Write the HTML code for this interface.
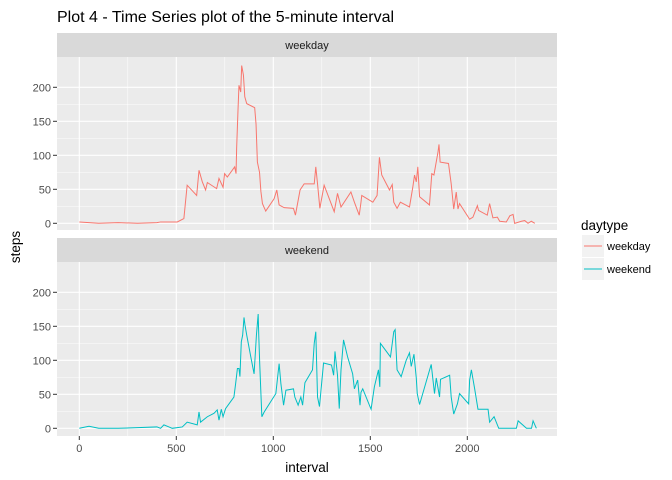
<!DOCTYPE html>
<html><head><meta charset="utf-8">
<style>
html,body{margin:0;padding:0;background:#fff;}
svg{display:block;font-family:"Liberation Sans",sans-serif;}
</style></head>
<body>
<svg id="chart" width="672" height="480" viewBox="0 0 672 480">
<rect width="672" height="480" fill="#fff"/>
<text x="57" y="22" font-size="16" fill="#000">Plot 4 - Time Series plot of the 5-minute interval</text>
<g id="panels"></g>
<text x="307" y="472" font-size="13.5" text-anchor="middle" fill="#000">interval</text>
<text transform="translate(20,247) rotate(-90)" font-size="13.5" text-anchor="middle" fill="#000">steps</text>
<g>
<text x="581" y="230" font-size="13.5" fill="#000">daytype</text>
<g>
<rect x="582" y="235" width="22" height="22" fill="#f2f2f2"/>
<line x1="584" y1="246" x2="602" y2="246" stroke="#F8766D" stroke-width="1"/>
<text x="607" y="250" font-size="11" fill="#000">weekday</text>
</g>
<g>
<rect x="582" y="258" width="22" height="22" fill="#f2f2f2"/>
<line x1="584" y1="269" x2="602" y2="269" stroke="#00BFC4" stroke-width="1"/>
<text x="607" y="273" font-size="11" fill="#000">weekend</text>
</g>
</g>
</svg>
<script>
const weekdayIntervals=[0,50,100,200,300,400,419,505,539,556,605,617,634,651,660,708,720,741,749,763,801,808,811,818,823,832,837,846,853,863,904,911,918,929,936,944,961,1004,1018,1030,1056,1104,1114,1138,1159,1211,1219,1228,1240,1262,1314,1331,1349,1400,1418,1443,1452,1456,1513,1535,1547,1559,1599,1613,1621,1638,1655,1702,1719,1728,1737,1745,1754,1805,1817,1828,1849,1854,1860,1903,1917,1930,1943,1952,1960,2012,2029,2052,2058,2103,2115,2132,2155,2167,2201,2219,2236,2244,2279,2296,2313,2330,2348];
const weekdaySteps=[2,1,0,1,0,1,2,2,7,56,41,78,61,49,60,51,66,53,73,68,83,73,110,166,203,193,232,218,186,176,170,146,90,75,47,29,18,36,49,27,23,22,12,49,58,58,83,58,22,56,17,44,24,46,31,12,31,41,31,41,97,71,49,57,31,22,31,24,53,71,61,83,39,27,73,71,105,116,90,88,58,21,46,21,29,6,9,26,19,12,29,8,9,3,2,11,13,0,3,4,0,3,0];
const weekendIntervals=[0,50,100,200,300,400,419,436,462,479,531,556,608,617,625,660,694,711,720,732,741,754,797,806,815,823,828,835,842,849,854,863,884,901,913,922,925,930,941,953,1013,1030,1039,1053,1065,1104,1111,1128,1142,1151,1163,1202,1211,1219,1228,1238,1259,1300,1311,1318,1331,1340,1349,1362,1383,1409,1418,1435,1447,1452,1461,1504,1521,1542,1549,1552,1604,1621,1628,1638,1659,1685,1702,1711,1725,1737,1742,1754,1814,1831,1840,1857,1862,1909,1917,1930,1949,1960,2007,2012,2021,2038,2055,2107,2115,2138,2162,2253,2262,2305,2331,2339,2356];
const weekendSteps=[0,3,0,0,1,2,0,5,2,0,2,9,5,24,9,17,22,27,12,28,17,29,46,66,88,88,76,127,137,163,152,137,105,80,137,168,137,95,17,24,51,95,66,34,56,58,46,34,46,34,67,86,125,142,46,32,96,93,78,113,78,29,86,130,105,80,58,71,34,53,58,28,61,86,61,125,105,142,145,86,76,100,111,91,109,74,51,35,94,51,74,46,72,78,46,21,36,51,36,71,86,58,28,28,9,17,0,0,11,0,0,11,0];
const xTicks=[0,500,1000,1500,2000];
const yTicks=[0,50,100,150,200];
const facetLabels=['weekday','weekend'];

const NS='http://www.w3.org/2000/svg';
const PL=57,PR=557;
const xScale=v=>79.3+v*0.194;
const panels=[{top:57,bottom:230,strip:33,zero:223.3,label:facetLabels[0],xs:weekdayIntervals,ys:weekdaySteps,color:'#F8766D'},
              {top:262,bottom:436,strip:238,zero:428.3,label:facetLabels[1],xs:weekendIntervals,ys:weekendSteps,color:'#00BFC4'}];
const root=document.getElementById('panels');
function mk(tag,attrs,parent){const e=document.createElementNS(NS,tag);for(const k in attrs)e.setAttribute(k,attrs[k]);parent.appendChild(e);return e;}
panels.forEach((p,i)=>{
  const yScale=v=>p.zero-v*0.68;
  const g=mk('g',{},root);
  
  
  const strip=mk('rect',{x:PL,y:p.strip,width:PR-PL,height:24,fill:'#d9d9d9'},g);
  
  
  const st=mk('text',{x:(PL+PR)/2,y:p.strip+16,'font-size':'11','text-anchor':'middle',fill:'#1a1a1a'},g);
  st.textContent=p.label;
  
  
  const bg=mk('rect',{x:PL,y:p.top,width:PR-PL,height:p.bottom-p.top,fill:'#ebebeb'},g);
  
  
  // minor grid
  for(let k=0;k<yTicks.length-1;k++){const v=(yTicks[k]+yTicks[k+1])/2;const y=yScale(v);
    mk('line',{x1:PL,x2:PR,y1:y,y2:y,stroke:'#fff','stroke-width':0.5},g);}
  for(let k=0;k<xTicks.length;k++){const v=xTicks[k]+250;const x=xScale(v);if(x<PR)
    mk('line',{x1:x,x2:x,y1:p.top,y2:p.bottom,stroke:'#fff','stroke-width':0.5},g);}
  yTicks.forEach(v=>{const y=yScale(v);
    mk('line',{x1:PL,x2:PR,y1:y,y2:y,stroke:'#fff','stroke-width':1.1},g);
    mk('line',{x1:PL-4,x2:PL,y1:y,y2:y,stroke:'#333','stroke-width':1},g);
    const t=mk('text',{x:PL-6,y:y+4,'font-size':'11','text-anchor':'end',fill:'#4d4d4d'},g);t.textContent=v;
    
    
  });
  xTicks.forEach(v=>{const x=xScale(v);
    mk('line',{x1:x,x2:x,y1:p.top,y2:p.bottom,stroke:'#fff','stroke-width':1.1},g);
    if(i===1){mk('line',{x1:x,x2:x,y1:p.bottom,y2:p.bottom+4,stroke:'#333','stroke-width':1},g);
      const t=mk('text',{x:x,y:p.bottom+16,'font-size':'11','text-anchor':'middle',fill:'#4d4d4d'},g);t.textContent=v;
      
      }
  });
  const d=p.xs.map((x,j)=>(j?'L':'M')+xScale(x).toFixed(2)+','+yScale(p.ys[j]).toFixed(2)).join('');
  const line=mk('path',{d:d,fill:'none',stroke:p.color,'stroke-width':1},g);
  
  
});
</script>
</body></html>
